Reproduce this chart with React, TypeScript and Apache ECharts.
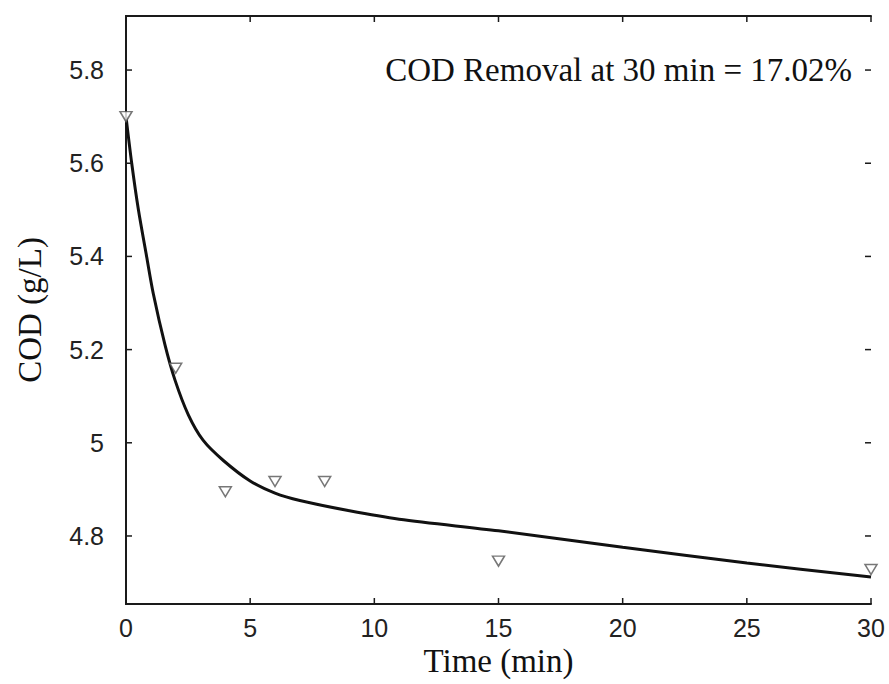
import React, { useEffect, useRef } from "react";
import * as echarts from "echarts";

const measuredTimes = [0, 2, 4, 6, 8, 15, 30];
const measuredCOD = [5.70, 5.16, 4.895, 4.917, 4.917, 4.746, 4.728];

const fitTimes = [0, 0.23, 0.5, 0.83, 1.1, 1.57, 1.97, 2.51, 3.11, 3.92, 5, 6, 7, 9, 11, 15, 20, 25, 30];
const fitCOD = [5.70, 5.60, 5.50, 5.40, 5.32, 5.21, 5.135, 5.06, 5.005, 4.962, 4.918, 4.892, 4.876, 4.854, 4.836, 4.811, 4.776, 4.742, 4.712];

const xTickValues = [0, 5, 10, 15, 20, 25, 30];
const yTickValues = [4.8, 5.0, 5.2, 5.4, 5.6, 5.8];
const annotation = "COD Removal at 30 min = 17.02%";
const xTitle = "Time (min)";
const yTitle = "COD (g/L)";

export default function App() {
  const ref = useRef<HTMLDivElement>(null);
  useEffect(() => {
    document.body.style.margin = "0";
    const chart = echarts.init(ref.current!, null, { renderer: "svg" });
    const labelFont = {
      fontFamily: "Liberation Sans",
      fontSize: 25,
      color: "#222",
    };
    const TICK = 6;
    const tickStyle = { stroke: "#1a1a1a", lineWidth: 1.5 };
    const axisLine = { show: true, lineStyle: { color: "#1a1a1a", width: 2 } };
    chart.setOption({
      animation: false,
      backgroundColor: "#fff",
      grid: { left: 126, right: 18, top: 16, bottom: 80, containLabel: false },
      xAxis: [
        {
          type: "value",
          min: 0,
          max: 30,
          interval: 5,
          position: "bottom",
          axisLine,
          axisTick: { show: false },
          axisLabel: { ...labelFont, margin: 11 },
          splitLine: { show: false },
          name: xTitle,
          nameLocation: "middle",
          nameGap: 37,
          nameTextStyle: { fontFamily: "Liberation Serif", fontSize: 33, color: "#111" },
        },
        {
          type: "value",
          min: 0,
          max: 30,
          interval: 5,
          position: "top",
          axisLine,
          axisTick: { show: false },
          axisLabel: { show: false },
          splitLine: { show: false },
        },
      ],
      yAxis: [
        {
          type: "value",
          min: 4.654,
          max: 5.916,
          position: "left",
          axisLine,
          axisTick: { show: false },
          axisLabel: {
            ...labelFont,
            margin: 22,
            padding: [12, 0, 0, 0],
            customValues: yTickValues,
            formatter: (v: number) => String(Math.round(v * 10) / 10),
          },
          splitLine: { show: false },
          name: yTitle,
          nameLocation: "middle",
          nameGap: 80,
          nameRotate: 90,
          nameTextStyle: { fontFamily: "Liberation Serif", fontSize: 33, color: "#111" },
        },
        {
          type: "value",
          min: 4.654,
          max: 5.916,
          position: "right",
          axisLine,
          axisTick: { show: false },
          axisLabel: { show: false },
          splitLine: { show: false },
        },
      ],
      graphic: [
        {
          type: "text",
          right: 889 - 852,
          top: 53,
          style: {
            text: annotation,
            fontFamily: "Liberation Serif",
            fontSize: 33,
            fill: "#111",
          },
        },
      ],
      series: [
        {
          type: "custom",
          silent: true,
          clip: false,
          data: xTickValues.map((v) => [v, yTickValues[0]]),
          renderItem: (params: any, api: any) => {
            const cs = params.coordSys;
            const x = api.coord([api.value(0), api.value(1)])[0];
            const yb = cs.y + cs.height;
            return {
              type: "group",
              children: [
                { type: "line", shape: { x1: x, y1: yb, x2: x, y2: yb - TICK }, style: tickStyle },
                { type: "line", shape: { x1: x, y1: cs.y, x2: x, y2: cs.y + TICK }, style: tickStyle },
              ],
            };
          },
          z: 5,
        },
        {
          type: "custom",
          silent: true,
          clip: false,
          data: yTickValues.map((v) => [xTickValues[0], v]),
          renderItem: (params: any, api: any) => {
            const cs = params.coordSys;
            const y = api.coord([api.value(0), api.value(1)])[1];
            const xr = cs.x + cs.width;
            return {
              type: "group",
              children: [
                { type: "line", shape: { x1: cs.x, y1: y, x2: cs.x + TICK, y2: y }, style: tickStyle },
                { type: "line", shape: { x1: xr, y1: y, x2: xr - TICK, y2: y }, style: tickStyle },
              ],
            };
          },
          z: 5,
        },
        {
          type: "line",
          data: fitTimes.map((t, i) => [t, fitCOD[i]]),
          showSymbol: false,
          smooth: 0.3,
          lineStyle: { color: "#111", width: 3 },
          z: 2,
        },
        {
          type: "scatter",
          data: measuredTimes.map((t, i) => [t, measuredCOD[i]]),
          symbol: "triangle",
          symbolRotate: 180,
          symbolSize: [12, 10],
          itemStyle: { color: "#fff", borderColor: "#555", borderWidth: 1.5 },
          z: 3,
        },
      ],
    });
    return () => chart.dispose();
  }, []);
  return <div ref={ref} style={{ position: "fixed", left: 0, top: 0, width: 889, height: 684 }} />;
}
